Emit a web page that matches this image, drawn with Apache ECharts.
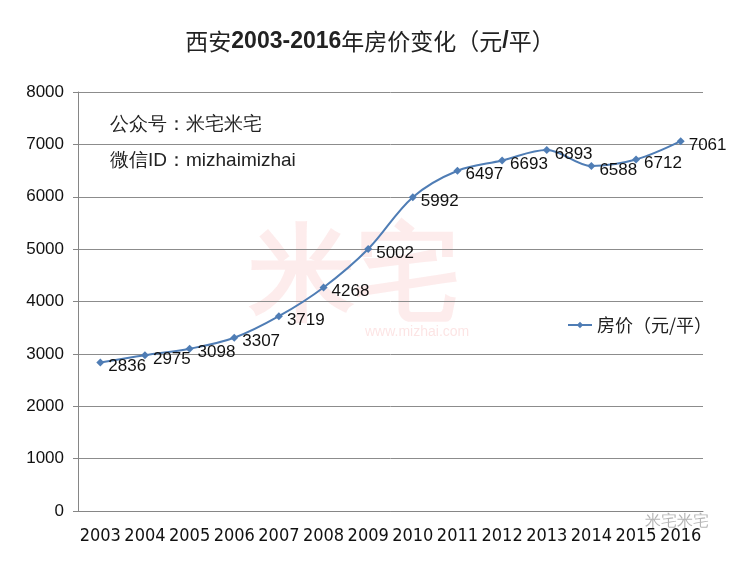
<!DOCTYPE html>
<html>
<head>
<meta charset="utf-8">
<script src="https://cdn.jsdelivr.net/npm/echarts@6/dist/echarts.min.js"></script>
<style>
  html, body { margin: 0; padding: 0; background: #fff; }
  #chart { width: 740px; height: 561px; }
</style>
</head>
<body>
<div id="chart"></div>
<script>
const years = ['2003', '2004', '2005', '2006', '2007', '2008', '2009', '2010', '2011', '2012', '2013', '2014', '2015', '2016'];
const prices = [2836, 2975, 3098, 3307, 3719, 4268, 5002, 5992, 6497, 6693, 6893, 6588, 6712, 7061];
const seriesName = '房价（元/平）';

const chart = echarts.init(document.getElementById('chart'));

chart.setOption({
  backgroundColor: '#fff',
  textStyle: { fontFamily: '"Noto Sans CJK SC", "Liberation Sans", sans-serif' },
  title: {
    text: '西安{b|2003-2016}年房价变化（元{b|/}平）',
    left: 'center',
    top: 25,
    textStyle: {
      fontSize: 23,
      fontWeight: 'normal',
      color: '#222',
      rich: {
        b: { fontSize: 23, fontWeight: 'bold', color: '#222', fontFamily: '"Liberation Sans", sans-serif' },
      },
    },
  },
  legend: {
    data: [seriesName],
    left: 562,
    top: 311,
    itemWidth: 24,
    itemHeight: 8,
    textStyle: { fontSize: 18, color: '#222' },
  },
  grid: {
    left: 78,
    right: 37,
    top: 92,
    bottom: 50,
  },
  xAxis: {
    type: 'category',
    data: years,
    axisLine: { lineStyle: { color: '#868686' } },
    axisTick: { lineStyle: { color: '#868686' }, length: 5 },
    axisLabel: {
      interval: 0,
      color: '#111',
      fontSize: 18,
      margin: 16,
      fontFamily: '"DejaVu Sans Condensed", "Liberation Sans Narrow", sans-serif',
    },
  },
  yAxis: {
    type: 'value',
    min: 0,
    max: 8000,
    interval: 1000,
    axisLine: { show: true, lineStyle: { color: '#868686' } },
    axisTick: { show: true, length: 5, lineStyle: { color: '#868686' } },
    splitLine: { lineStyle: { color: '#8c8c8c' } },
    axisLabel: {
      color: '#111',
      fontSize: 17,
      margin: 14,
      formatter: (v) => String(v),
      fontFamily: '"Liberation Sans", sans-serif',
    },
  },
  graphic: [
    {
      type: 'text',
      left: 250,
      top: 228,
      z: 0,
      style: { text: '米宅', fontSize: 105, fontWeight: 'bold', fill: 'rgba(240,120,120,0.14)' },
    },
    {
      type: 'text',
      left: 365,
      top: 325,
      z: 0,
      style: { text: 'www.mizhai.com', fontSize: 14, fill: 'rgba(240,120,120,0.2)' },
    },
    {
      type: 'text',
      left: 110,
      top: 115,
      style: { text: '公众号：米宅米宅', fontSize: 19, fill: '#222' },
    },
    {
      type: 'text',
      left: 110,
      top: 151,
      style: { text: '微信ID：mizhaimizhai', fontSize: 19, fill: '#222' },
    },
    {
      type: 'text',
      left: 645,
      top: 514,
      style: { text: '米宅米宅', fontSize: 16, fill: 'rgba(120,120,120,0.55)' },
    },
  ],
  series: [
    {
      name: seriesName,
      type: 'line',
      data: prices,
      smooth: 0.35,
      symbol: 'diamond',
      symbolSize: 8,
      itemStyle: { color: '#4f7db5' },
      lineStyle: { color: '#4f7db5', width: 2 },
      label: {
        show: true,
        position: 'right',
        distance: 4,
        offset: [0, 4],
        fontSize: 17,
        color: '#111',
        fontFamily: '"Liberation Sans", sans-serif',
      },
    },
  ],
});
</script>
</body>
</html>
